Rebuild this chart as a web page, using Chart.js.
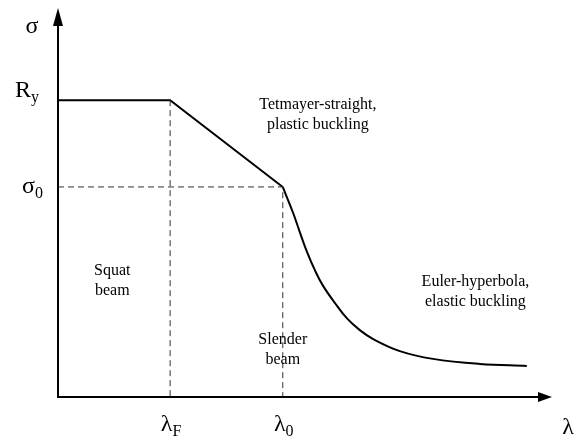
<!DOCTYPE html>
<html>
<head>
<meta charset="utf-8">
<script src="https://cdn.jsdelivr.net/npm/chart.js@4/dist/chart.umd.min.js"></script>
<style>
  html, body { margin: 0; padding: 0; background: #fff; }
  #wrap { width: 580px; height: 440px; }
</style>
</head>
<body>
<div id="wrap"><canvas id="c" width="580" height="440"></canvas></div>
<script>
// ---- data (arbitrary units: λ 0..100, σ 0..100) ----
const lambdaF = 22.7;
const lambda0 = 45.5;
const sigmaRy = 76.3;
const sigma0 = 54.0;

// yield plateau + Tetmayer straight line
const plasticX = [0, lambdaF, lambda0];
const plasticY = [sigmaRy, sigmaRy, sigma0];

// Euler hyperbola
const eulerX = [45.5, 47.6, 49.0, 50.4, 52.0, 53.6, 56.1, 58.5, 61.1, 63.8, 69.2, 75.9, 85.4, 94.9];
const eulerY = [54.0, 47.3, 42.2, 37.3, 32.6, 28.7, 24.1, 20.2, 17.2, 14.9, 11.8, 9.8, 8.5, 8.0];

// dashed guides
const guide0X = [0, lambda0, lambda0];
const guide0Y = [sigma0, sigma0, 0];
const guideFX = [lambdaF, lambdaF];
const guideFY = [sigmaRy, 0];

// tick labels: [main, subscript]
const xTickValues = [lambdaF, lambda0];
const xTickLabels = [['λ', 'F'], ['λ', '0']];
const yTickValues = [sigmaRy, sigma0];
const yTickLabels = [['R', 'y'], ['σ', '0']];
const xAxisTitle = 'λ';
const yAxisTitle = 'σ';

// region annotations
const notes = [
  { x: 52.6, y: 75.0, lines: ['Tetmayer-straight,', 'plastic buckling'] },
  { x: 11.0, y: 32.4, lines: ['Squat', 'beam'] },
  { x: 45.5, y: 14.6, lines: ['Slender', 'beam'] },
  { x: 84.5, y: 29.6, lines: ['Euler-hyperbola,', 'elastic buckling'] }
];

const pts = (xs, ys) => xs.map((x, i) => ({ x, y: ys[i] }));

const SERIF = '"Liberation Serif", "DejaVu Serif", serif';

const decor = {
  id: 'decor',
  afterDatasetsDraw(chart) {
    const { ctx, chartArea: a, scales: { x, y } } = chart;
    ctx.save();
    ctx.strokeStyle = '#000';
    ctx.fillStyle = '#000';
    ctx.lineWidth = 2;
    const ox = x.getPixelForValue(0), oy = y.getPixelForValue(0);
    ctx.beginPath();
    ctx.moveTo(ox, oy + 1);
    ctx.lineTo(ox, a.top + 14);
    ctx.moveTo(ox - 1, oy);
    ctx.lineTo(a.right - 12, oy);
    ctx.stroke();
    ctx.beginPath();
    ctx.moveTo(ox, a.top);
    ctx.lineTo(ox - 5, a.top + 18);
    ctx.lineTo(ox + 5, a.top + 18);
    ctx.closePath();
    ctx.fill();
    ctx.beginPath();
    ctx.moveTo(a.right, oy);
    ctx.lineTo(a.right - 14, oy - 5);
    ctx.lineTo(a.right - 14, oy + 5);
    ctx.closePath();
    ctx.fill();

    const sub = (main, s, px, py, size, align) => {
      ctx.font = size + 'px ' + SERIF;
      const w1 = ctx.measureText(main).width;
      ctx.font = Math.round(size * 0.68) + 'px ' + SERIF;
      const w2 = ctx.measureText(s).width;
      const total = w1 + w2;
      let start = px;
      if (align === 'center') start = px - total / 2;
      else if (align === 'right') start = px - total;
      ctx.textBaseline = 'alphabetic';
      ctx.textAlign = 'left';
      ctx.font = size + 'px ' + SERIF;
      ctx.fillText(main, start, py);
      ctx.font = Math.round(size * 0.68) + 'px ' + SERIF;
      ctx.fillText(s, start + w1, py + size * 0.22);
    };

    const yOff = [[39, -3], [43, 6]];
    yTickValues.forEach((v, i) => {
      const py = y.getPixelForValue(v);
      sub(yTickLabels[i][0], yTickLabels[i][1], yOff[i][0], py + yOff[i][1], 24, 'right');
    });
    xTickValues.forEach((v, i) => {
      const px = x.getPixelForValue(v);
      sub(xTickLabels[i][0], xTickLabels[i][1], px + 1, oy + 34, 24, 'center');
    });
    ctx.font = '24px ' + SERIF;
    ctx.textAlign = 'center';
    ctx.textBaseline = 'alphabetic';
    ctx.fillText(yAxisTitle, ox - 26, a.top + 25);
    ctx.fillText(xAxisTitle, a.right + 16, oy + 37);

    ctx.font = '16px ' + SERIF;
    ctx.textAlign = 'center';
    ctx.textBaseline = 'middle';
    notes.forEach(n => {
      const px = x.getPixelForValue(n.x), py = y.getPixelForValue(n.y);
      n.lines.forEach((t, k) => ctx.fillText(t, px, py + k * 19.5));
    });
    ctx.restore();
  }
};

new Chart(document.getElementById('c'), {
  type: 'scatter',
  data: {
    datasets: [
      { data: pts(guide0X, guide0Y), showLine: true, borderColor: '#333', borderWidth: 1,
        borderDash: [6, 4], pointRadius: 0, tension: 0 },
      { data: pts(guideFX, guideFY), showLine: true, borderColor: '#333', borderWidth: 1,
        borderDash: [6, 4], pointRadius: 0, tension: 0 },
      { data: pts(plasticX, plasticY), showLine: true, borderColor: '#000', borderWidth: 2,
        pointRadius: 0, tension: 0 },
      { data: pts(eulerX, eulerY), showLine: true, borderColor: '#000', borderWidth: 2,
        pointRadius: 0, tension: 0.4 }
    ]
  },
  options: {
    responsive: false,
    animation: false,
    events: [],
    layout: { padding: { left: 58, top: 8, right: 28, bottom: 43 } },
    plugins: { legend: { display: false }, tooltip: { enabled: false } },
    scales: {
      x: { type: 'linear', min: 0, max: 100, display: false },
      y: { type: 'linear', min: 0, max: 100, display: false }
    }
  },
  plugins: [decor]
});
</script>
</body>
</html>
